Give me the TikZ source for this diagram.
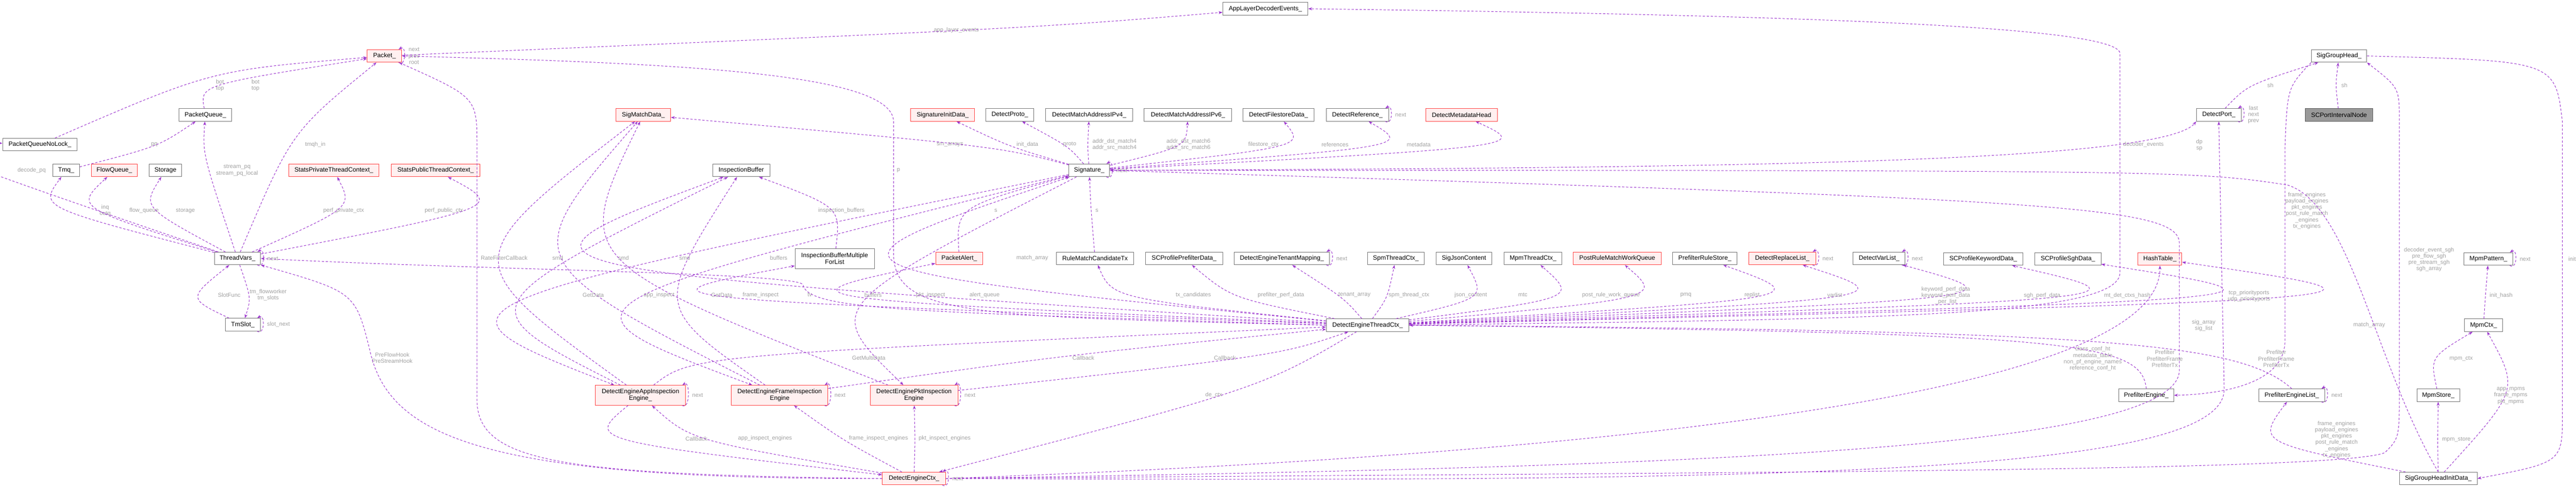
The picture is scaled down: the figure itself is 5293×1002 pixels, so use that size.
\documentclass[tikz,border=0pt]{standalone}
\usepackage{fontspec}
\setmainfont{Liberation Sans}
\usetikzlibrary{calc,arrows.meta}

\definecolor{edgecol}{RGB}{154,50,205}
\definecolor{lblcol}{RGB}{160,160,160}
\definecolor{redfill}{RGB}{255,240,240}

% relation: from, to, label position, label text, label name
\newcommand\rel[5]{%
  \node[lbl] (#5) at (#3) {#4};
  \draw[edge] (#1) .. controls ($2*(#5.west)-0.5*(#1)-0.5*(#2)+(-14,0)$) .. (#2);}
% self relation: node, label text
\newcommand\selfrel[2]{%
  \draw[edge] ([xshift=-6pt]#1.south east) .. controls +(16,10) and +(16,-10) .. ([xshift=-6pt]#1.north east);
  \node[lbl,anchor=west] (#1self) at ($(#1.east)+(12,0)$) {#2};}

\begin{document}
\begin{tikzpicture}[x=0.03cm,y=-0.03cm,
  box/.style={draw=gray!90!black,fill=white,line width=0.8pt,minimum height=0.78cm,
    inner sep=2pt,font=\fontsize{11}{12}\selectfont,align=center},
  redbox/.style={box,draw=red!75,fill=redfill},
  graybox/.style={box,fill=gray!80,draw=gray!70!black},
  twoline/.style={minimum height=1.23cm},
  edge/.style={draw=edgecol,line width=0.9pt,dash pattern=on 4pt off 3pt,
    -{Stealth[length=7pt,width=5pt]}},
  lbl/.style={text=lblcol,font=\fontsize{10}{11}\selectfont,align=center,inner sep=1pt}]
  \useasboundingbox (0,0) rectangle (5293,1002);

  % Packet / thread side
  \node[redbox,minimum width=2.13cm] (pkt) at (790,115) {Packet\_};
  \node[box,minimum width=3.24cm] (pq) at (422,236) {PacketQueue\_};
  \node[box,minimum width=4.59cm] (pqnl) at (82,297) {PacketQueueNoLock\_};
  \node[box,minimum width=1.65cm] (tmq) at (136,350) {Tmq\_};
  \node[redbox,minimum width=2.85cm] (fq) at (235,350) {FlowQueue\_};
  \node[box,minimum width=2.01cm] (stor) at (340,350) {Storage};
  \node[redbox,minimum width=5.58cm] (spriv) at (686,350) {StatsPrivateThreadContext\_};
  \node[redbox,minimum width=5.46cm] (spub) at (895,350) {StatsPublicThreadContext\_};
  \node[box,minimum width=2.85cm] (tv) at (488,531) {ThreadVars\_};
  \node[box,minimum width=2.16cm] (slot) at (499,667) {TmSlot\_};

  % Signature side
  \node[redbox,minimum width=3.36cm] (smd) at (1322,236) {SigMatchData\_};
  \node[box,minimum width=5.25cm] (ale) at (2600,18) {AppLayerDecoderEvents\_};
  \node[box,minimum width=3.51cm] (ib) at (1523,350) {InspectionBuffer};
  \node[redbox,minimum width=3.93cm] (sid) at (1937,236) {SignatureInitData\_};
  \node[box,minimum width=2.94cm] (proto) at (2075,236) {DetectProto\_};
  \node[box,minimum width=5.37cm] (ipv4) at (2238,236) {DetectMatchAddressIPv4\_};
  \node[box,minimum width=5.40cm] (ipv6) at (2441,236) {DetectMatchAddressIPv6\_};
  \node[box,minimum width=4.38cm] (fsd) at (2627,236) {DetectFilestoreData\_};
  \node[box,minimum width=3.84cm] (ref) at (2789,236) {DetectReference\_};
  \node[redbox,minimum width=4.41cm] (meta) at (3003,236) {DetectMetadataHead};
  \node[box,minimum width=2.52cm] (sig) at (2238,350) {Signature\_};

  % engines
  \node[redbox,twoline,minimum width=5.55cm] (app) at (1316,812) {DetectEngineAppInspection\\Engine\_};
  \node[redbox,twoline,minimum width=5.94cm] (frame) at (1602,812) {DetectEngineFrameInspection\\Engine};
  \node[redbox,twoline,minimum width=5.40cm] (pkteng) at (1878,812) {DetectEnginePktInspection\\Engine};
  \node[redbox,minimum width=3.90cm] (dec) at (1878,983) {DetectEngineCtx\_};

  % thread ctx row
  \node[box,twoline,minimum width=4.89cm] (ibm) at (1715,531) {InspectionBufferMultiple\\ForList};
  \node[redbox,minimum width=2.91cm] (alert) at (1971,531) {PacketAlert\_};
  \node[box,minimum width=4.77cm] (rmc) at (2250,531) {RuleMatchCandidateTx};
  \node[box,minimum width=4.74cm] (spd) at (2433,531) {SCProfilePrefilterData\_};
  \node[box,minimum width=5.88cm] (tenant) at (2634,531) {DetectEngineTenantMapping\_};
  \node[box,minimum width=3.51cm] (spm) at (2868,531) {SpmThreadCtx\_};
  \node[box,minimum width=3.42cm] (sjc) at (3008,531) {SigJsonContent};
  \node[box,minimum width=3.54cm] (mtc) at (3150,531) {MpmThreadCtx\_};
  \node[redbox,minimum width=5.43cm] (prwq) at (3323,531) {PostRuleMatchWorkQueue};
  \node[box,minimum width=3.96cm] (prs) at (3503,531) {PrefilterRuleStore\_};
  \node[redbox,minimum width=4.14cm] (repl) at (3662,531) {DetectReplaceList\_};
  \node[box,minimum width=3.21cm] (dvl) at (3861,531) {DetectVarList\_};
  \node[box,minimum width=4.92cm] (skd) at (4075,532) {SCProfileKeywordData\_};
  \node[box,minimum width=4.08cm] (ssd) at (4249,532) {SCProfileSghData\_};
  \node[redbox,minimum width=2.70cm] (ht) at (4438,532) {HashTable\_};
  \node[box,minimum width=5.10cm] (detc) at (2810,668) {DetectEngineThreadCtx\_};

  % group heads
  \node[box,minimum width=3.42cm] (sgh) at (4806,115) {SigGroupHead\_};
  \node[box,minimum width=2.76cm] (dport) at (4559,236) {DetectPort\_};
  \node[graybox,minimum width=4.17cm] (spin) at (4806,236) {SCPortIntervalNode};
  \node[box,minimum width=3.03cm] (mpat) at (5113,532) {MpmPattern\_};
  \node[box,minimum width=2.34cm] (mctx) at (5103,668) {MpmCtx\_};
  \node[box,minimum width=3.39cm] (pfe) at (4410,812) {PrefilterEngine\_};
  \node[box,minimum width=4.05cm] (pfel) at (4709,812) {PrefilterEngineList\_};
  \node[box,minimum width=2.64cm] (mstore) at (5010,812) {MpmStore\_};
  \node[box,minimum width=4.80cm] (sghid) at (5010,983) {SigGroupHeadInitData\_};

  % ThreadVars relations
  \rel{tv}{pkt}{648,297}{tmqh\_in}{l1}
  \rel{tv}{pqnl}{65,350}{decode\_pq}{l2}
  \rel{tv}{tmq}{216,433}{inq\\outq}{l3}
  \rel{tv}{fq}{296,433}{flow\_queue}{l4}
  \rel{tv}{stor}{381,433}{storage}{l5}
  \rel{tv}{pq}{487,350}{stream\_pq\\stream\_pq\_local}{l6}
  \rel{tv}{spriv}{706,433}{perf\_private\_ctx}{l7}
  \rel{tv}{spub}{912,433}{perf\_public\_ctx}{l8}
  \selfrel{tv}{next}
  \rel{tv}{slot}{551,606}{tm\_flowworker\\tm\_slots}{l9}
  \rel{slot}{tv}{471,606}{SlotFunc}{l10}
  \selfrel{slot}{slot\_next}
  \rel{tmq}{pq}{317,297}{pq}{l11}
  \rel{pqnl}{pkt}{452,175}{bot\\top}{l12}
  \rel{pq}{pkt}{525,175}{bot\\top}{l13}
  \selfrel{pkt}{next\\prev\\root}
  \rel{pkt}{ale}{1965,62}{app\_layer\_events}{l14}
  \node[lbl] (l15) at (806,735) {PreFlowHook\\PreStreamHook};
  \draw[edge] (dec.west) .. controls (1000,985) and (800,900) .. (760,720) .. controls (730,600) .. (tv.south east);
  \node[lbl] (l16) at (1036,530) {RateFilterCallback};
  \draw[edge] (dec.west) .. controls (1150,975) and (980,950) .. (980,820) -- (980,300) .. controls (980,200) .. (pkt);
  \node[lbl] (l17) at (1664,606) {tv};
  \draw[edge] (detc.west) .. controls (1900,640) and (1660,640) .. (1650,585) .. controls (1640,560) and (1000,555) .. (tv.east);
  \node[lbl] (l18) at (1846,350) {p};
  \draw[edge] (detc.west) .. controls (2000,650) and (1836,650) .. (1836,520) -- (1836,250) .. controls (1836,150) and (1400,130) .. (pkt.east);

  % Signature relations
  \rel{app}{smd}{1146,530}{smd}{l19}
  \rel{frame}{smd}{1281,530}{smd}{l20}
  \rel{pkteng}{smd}{1407,530}{smd}{l21}
  \rel{sig}{smd}{1952,297}{sm\_arrays}{l22}
  \rel{sig}{sid}{2111,297}{init\_data}{l23}
  \rel{sig}{proto}{2198,297}{proto}{l24}
  \rel{sig}{ipv4}{2290,297}{addr\_dst\_match4\\addr\_src\_match4}{l25}
  \rel{sig}{ipv6}{2442,297}{addr\_dst\_match6\\addr\_src\_match6}{l26}
  \rel{sig}{fsd}{2596,297}{filestore\_ctx}{l27}
  \rel{sig}{ref}{2743,297}{references}{l28}
  \rel{sig}{meta}{2915,297}{metadata}{l29}
  \selfrel{ref}{next}
  \selfrel{sig}{next}
  \rel{sig}{app}{1354,606}{app\_inspect}{l30}
  \rel{sig}{frame}{1563,606}{frame\_inspect}{l31}
  \rel{sig}{pkteng}{1912,606}{pkt\_inspect}{l32}

  % engine relations
  \rel{app}{ib}{1219,606}{GetData}{l33}
  \rel{frame}{ib}{1483,606}{GetData}{l34}
  \rel{app}{detc}{1785,735}{GetMultiData}{l35}
  \rel{frame}{detc}{2226,735}{Callback}{l36}
  \rel{pkteng}{detc}{2517,735}{Callback}{l37}
  \rel{app}{dec}{1431,901}{Callback}{l38}
  \rel{dec}{app}{1572,901}{app\_inspect\_engines}{l39}
  \rel{dec}{frame}{1805,901}{frame\_inspect\_engines}{l40}
  \rel{dec}{pkteng}{1941,901}{pkt\_inspect\_engines}{l41}
  \selfrel{app}{next}
  \selfrel{frame}{next}
  \selfrel{pkteng}{next}
  \selfrel{dec}{next}

  % thread ctx relations
  \rel{detc}{ib}{1600,530}{buffers}{l42}
  \rel{detc}{ibm}{1794,606}{buffers}{l43}
  \rel{ibm}{ib}{1729,433}{inspection\_buffers}{l44}
  \rel{detc}{alert}{2023,606}{alert\_queue}{l45}
  \rel{alert}{sig}{2046,433}{s}{l46}
  \rel{rmc}{sig}{2254,433}{s}{l47}
  \rel{detc}{sig}{2121,530}{match\_array}{l48}
  \rel{detc}{rmc}{2452,606}{tx\_candidates}{l49}
  \rel{detc}{spd}{2632,606}{prefilter\_perf\_data}{l50}
  \rel{detc}{tenant}{2783,606}{tenant\_array}{l51}
  \selfrel{tenant}{next}
  \rel{detc}{spm}{2895,606}{spm\_thread\_ctx}{l52}
  \rel{detc}{sjc}{3022,606}{json\_content}{l53}
  \rel{detc}{mtc}{3129,606}{mtc}{l54}
  \rel{detc}{prwq}{3310,606}{post\_rule\_work\_queue}{l55}
  \rel{detc}{prs}{3464,606}{pmq}{l56}
  \rel{detc}{repl}{3600,606}{replist}{l57}
  \selfrel{repl}{next}
  \rel{detc}{dvl}{3770,606}{varlist}{l58}
  \selfrel{dvl}{next}
  \rel{detc}{skd}{3998,607}{keyword\_perf\_data\\keyword\_perf\_data\\\_per\_list}{l59}
  \rel{detc}{ssd}{4196,607}{sgh\_perf\_data}{l60}
  \rel{detc}{ht}{4371,607}{mt\_det\_ctxs\_hash}{l61}
  \node[lbl] (l62) at (4404,297) {decoder\_events};
  \draw[edge] (detc.east) .. controls (3800,655) and (4356,655) .. (4356,560) -- (4356,110) .. controls (4356,50) and (3600,30) .. (ale.east);
  \rel{detc}{dec}{2494,811}{de\_ctx}{l63}

  % group head relations
  \node[lbl] (l64) at (4519,298) {dp\\sp};
  \draw[edge] (sig.east) .. controls (3400,345) and (4440,340) .. (dport.south west);
  \selfrel{dport}{last\\next\\prev}
  \rel{dport}{sgh}{4665,175}{sh}{l65}
  \rel{spin}{sgh}{4817,175}{sh}{l66}
  \node[lbl] (l67) at (4740,433) {frame\_engines\\payload\_engines\\pkt\_engines\\post\_rule\_match\\\_engines\\tx\_engines};
  \draw[edge] (sgh.south west) .. controls (4700,180) .. (4695,300) -- (4695,700) .. controls (4695,790) and (4560,810) .. (pfe.east);
  \node[lbl] (l68) at (4991,533) {decoder\_event\_sgh\\pre\_flow\_sgh\\pre\_stream\_sgh\\sgh\_array};
  \draw[edge] (dec.east) .. controls (3500,970) and (4800,970) .. (4900,930) .. controls (4930,900) .. (4930,800) -- (4930,250) .. controls (4930,180) .. (sgh.south east);
  \node[lbl] (l69) at (4868,668) {match\_array};
  \draw[edge] (sghid.north) .. controls (4880,750) and (4830,420) .. (4700,380) .. controls (4500,350) .. (sig.east);
  \node[lbl] (l70) at (4621,608) {tcp\_priorityports\\udp\_priorityports};
  \draw[edge] (dec.east) .. controls (3600,990) and (4570,980) .. (4570,800) -- (dport.south);
  \node[lbl] (l71) at (4528,669) {sig\_array\\sig\_list};
  \draw[edge] (dec.east) .. controls (3400,960) and (4478,930) .. (4478,760) -- (4478,500) .. controls (4478,420) and (4200,410) .. (sig.east);
  \node[lbl] (l72) at (4300,737) {class\_conf\_ht\\metadata\_table\\non\_pf\_engine\_names\\reference\_conf\_ht};
  \draw[edge] (dec.east) .. controls (3400,930) and (4440,800) .. (ht.south);
  \node[lbl] (l73) at (4448,737) {Prefilter\\PrefilterFrame\\PrefilterTx};
  \draw[edge] (pfe.north) .. controls (4400,700) and (4250,685) .. (detc.east);
  \node[lbl] (l74) at (4677,737) {Prefilter\\PrefilterFrame\\PrefilterTx};
  \draw[edge] (pfel.north) .. controls (4600,700) and (4300,680) .. (detc.east);
  \selfrel{pfel}{next}
  \rel{sghid}{pfel}{4801,903}{frame\_engines\\payload\_engines\\pkt\_engines\\post\_rule\_match\\\_engines\\tx\_engines}{l75}
  \rel{sghid}{mstore}{5047,903}{mpm\_store}{l76}
  \rel{sghid}{mctx}{5159,813}{app\_mpms\\frame\_mpms\\pkt\_mpms}{l77}
  \rel{mstore}{mctx}{5057,737}{mpm\_ctx}{l78}
  \rel{mctx}{mpat}{5139,607}{init\_hash}{l79}
  \selfrel{mpat}{next}
  \node[lbl] (l80) at (5285,532) {init};
  \draw[edge] (sgh.east) .. controls (5250,125) .. (5265,250) -- (5265,850) .. controls (5265,950) .. (sghid.east);
\end{tikzpicture}
\end{document}
